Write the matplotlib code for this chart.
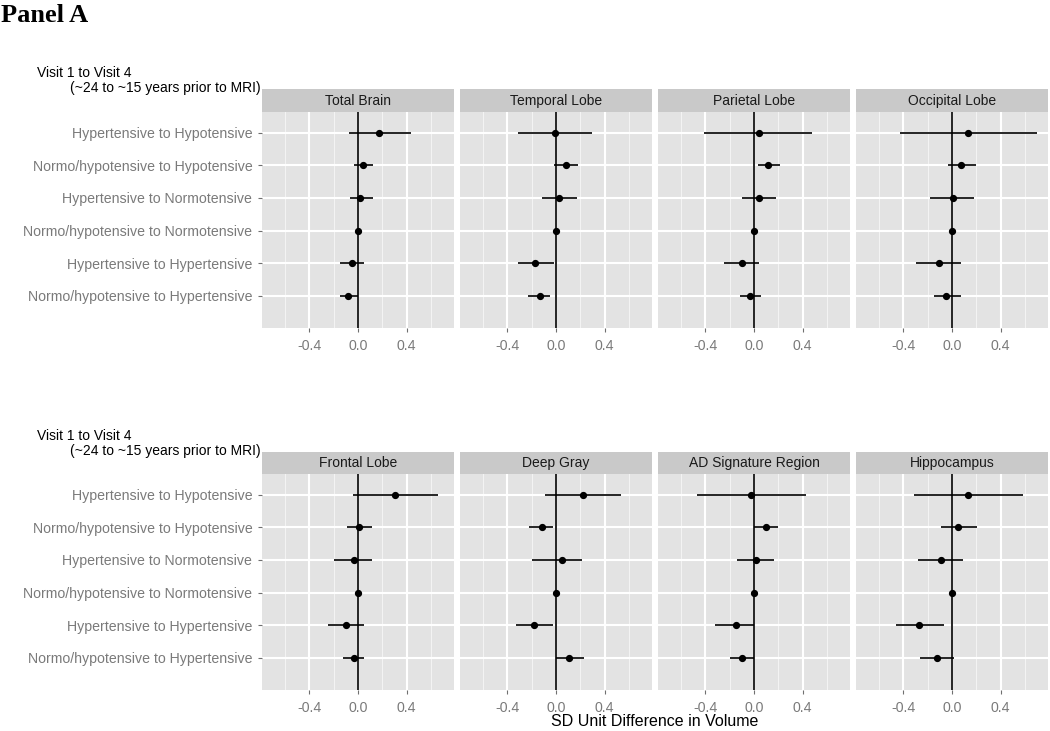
import numpy as np
import matplotlib
matplotlib.use("Agg")
import matplotlib.pyplot as plt

nan = np.nan

transitions = [
    "Hypertensive to Hypotensive",
    "Normo/hypotensive to Hypotensive",
    "Hypertensive to Normotensive",
    "Normo/hypotensive to Normotensive",
    "Hypertensive to Hypertensive",
    "Normo/hypotensive to Hypertensive",
]

regions_top = ["Total Brain", "Temporal Lobe", "Parietal Lobe", "Occipital Lobe"]
regions_bottom = ["Frontal Lobe", "Deep Gray", "AD Signature Region", "Hippocampus"]

total_brain_est = [0.17, 0.04, 0.016, 0.0, -0.047, -0.08]
total_brain_lo = [-0.077, -0.033, -0.066, nan, -0.15, -0.15]
total_brain_hi = [0.436, 0.123, 0.123, nan, 0.05, 0.0]

temporal_est = [-0.01, 0.086, 0.024, 0.0, -0.169, -0.134]
temporal_lo = [-0.314, -0.016, -0.115, nan, -0.314, -0.228]
temporal_hi = [0.293, 0.18, 0.17, nan, -0.019, -0.048]

parietal_est = [0.04, 0.113, 0.04, 0.0, -0.097, -0.035]
parietal_lo = [-0.41, 0.032, -0.10, nan, -0.244, -0.118]
parietal_hi = [0.48, 0.217, 0.177, nan, 0.04, 0.059]

occipital_est = [0.133, 0.07, 0.008, 0.0, -0.111, -0.046]
occipital_lo = [-0.43, -0.035, -0.177, nan, -0.30, -0.152]
occipital_hi = [0.70, 0.196, 0.177, nan, 0.07, 0.07]

frontal_est = [0.308, 0.008, -0.035, 0.0, -0.098, -0.035]
frontal_lo = [-0.044, -0.087, -0.196, nan, -0.245, -0.12]
frontal_hi = [0.66, 0.114, 0.114, nan, 0.052, 0.052]

deep_gray_est = [0.22, -0.118, 0.051, 0.0, -0.18, 0.105]
deep_gray_lo = [-0.094, -0.223, -0.199, nan, -0.328, 0.003]
deep_gray_hi = [0.535, -0.022, 0.218, nan, -0.022, 0.228]

ad_sig_est = [-0.024, 0.095, 0.019, 0.0, -0.151, -0.097]
ad_sig_lo = [-0.468, 0.0, -0.14, nan, -0.322, -0.195]
ad_sig_hi = [0.427, 0.197, 0.165, nan, -0.003, -0.003]

hippo_est = [0.134, 0.049, -0.09, 0.0, -0.272, -0.123]
hippo_lo = [-0.313, -0.087, -0.283, nan, -0.46, -0.262]
hippo_hi = [0.583, 0.207, 0.09, nan, -0.068, 0.014]

x_ticks = [-0.4, 0.0, 0.4]
x_tick_labels = ["-0.4", "0.0", "0.4"]
x_minor = [-0.6, -0.2, 0.2, 0.6]

top_data = [
    (total_brain_est, total_brain_lo, total_brain_hi),
    (temporal_est, temporal_lo, temporal_hi),
    (parietal_est, parietal_lo, parietal_hi),
    (occipital_est, occipital_lo, occipital_hi),
]
bottom_data = [
    (frontal_est, frontal_lo, frontal_hi),
    (deep_gray_est, deep_gray_lo, deep_gray_hi),
    (ad_sig_est, ad_sig_lo, ad_sig_hi),
    (hippo_est, hippo_lo, hippo_hi),
]

plt.rcParams["font.family"] = ["Liberation Sans", "DejaVu Sans"]

W, H = 1050, 731
fig = plt.figure(figsize=(W / 100, H / 100), dpi=100)
fig.patch.set_facecolor("white")


def fx(px):
    return px / W


def fy(py):
    return 1 - py / H


PANEL_W = 192
GAP = 6
LEFT0 = 262
AX_GREY = "#7a7a7a"


def draw_row(regions, data, strip_top, panel_top, panel_bottom):
    rows = np.arange(1, len(transitions) + 1)
    for i, (name, (est, lo, hi)) in enumerate(zip(regions, data)):
        left = LEFT0 + i * (PANEL_W + GAP)
        ax = fig.add_axes([fx(left), fy(panel_bottom), PANEL_W / W,
                           (panel_bottom - panel_top) / H])
        ax.set_facecolor("#E3E3E3")
        ax.set_axisbelow(True)
        for s in ax.spines.values():
            s.set_visible(False)
        ax.set_xlim(-0.79, 0.79)
        ax.set_ylim(6.98, 0.38)
        ax.set_xticks(x_ticks)
        ax.set_xticklabels(x_tick_labels)
        ax.set_xticks(x_minor, minor=True)
        ax.set_yticks(rows)
        ax.grid(which="major", color="white", lw=1.5)
        ax.grid(which="minor", axis="x", color="#F3F3F3", lw=0.8)
        ax.tick_params(which="minor", length=0)
        ax.tick_params(axis="both", which="major", labelsize=10.2,
                       labelcolor=AX_GREY, color="#6f6f6f", length=3, width=0.8)
        ax.tick_params(axis="x", pad=5)
        ax.tick_params(axis="y", pad=4)
        if i == 0:
            ax.set_yticklabels(transitions)
        else:
            ax.set_yticklabels([])
            ax.tick_params(axis="y", which="both", length=0)
        ax.axvline(0, color="black", lw=1.2, zorder=2)
        ax.hlines(rows, lo, hi, color="black", lw=1.2, zorder=3)
        ax.plot(est, rows, "o", color="black", ms=4.2, zorder=4)

        sax = fig.add_axes([fx(left), fy(panel_top), PANEL_W / W,
                            (panel_top - strip_top) / H])
        sax.set_facecolor("#C9C9C9")
        sax.set_xticks([])
        sax.set_yticks([])
        for s in sax.spines.values():
            s.set_visible(False)
        sax.text(0.5, 0.5, name, ha="center", va="center", fontsize=10,
                 color="#1a1a1a", transform=sax.transAxes)

    fig.text(fx(37), fy(strip_top - 16), "Visit 1 to Visit 4", ha="left",
             va="center", fontsize=10, color="black")
    fig.text(fx(70), fy(strip_top - 1), "(~24 to ~15 years prior to MRI)",
             ha="left", va="center", fontsize=10, color="black")


draw_row(regions_top, top_data, 89, 112.3, 328)
draw_row(regions_bottom, bottom_data, 452.3, 474.3, 690)

fig.text(fx(655), fy(722), "SD Unit Difference in Volume", ha="center",
         va="center", fontsize=11.5, color="black")
fig.text(fx(1), fy(15), "Panel A", ha="left", va="center", fontsize=19,
         fontweight="bold", family=["Liberation Serif", "DejaVu Serif"])

fig.savefig("out.png", dpi=100)
